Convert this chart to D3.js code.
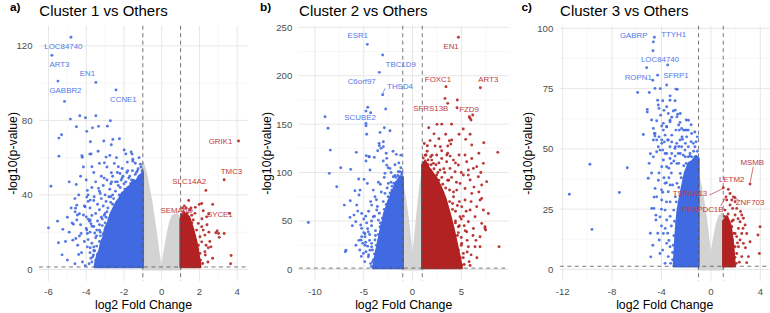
<!DOCTYPE html>
<html><head><meta charset="utf-8">
<script src="https://cdn.jsdelivr.net/npm/d3@7"></script>
<style>body{margin:0;background:#fff}svg{display:block}</style>
</head><body><svg id="c" width="770" height="313"></svg>
<script>
// ---------- text ----------
const panelTags = ["a)", "b)", "c)"];
const panelTitles = ["Cluster 1 vs Others", "Cluster 2 vs Others", "Cluster 3 vs Others"];
const xAxisTitle = "log2 Fold Change";
const yAxisTitle = "-log10(p-value)";
const fcCut = 1;
const pCut = 1.301; // -log10(0.05)

// ---------- ticks ----------
const aXTicks = [-6, -4, -2, 0, 2, 4];
const aYTicks = [0, 40, 80, 120];
const bXTicks = [-10, -5, 0, 5];
const bYTicks = [0, 50, 100, 150, 200, 250];
const cXTicks = [-12, -8, -4, 0, 4];
const cYTicks = [0, 25, 50, 75, 100];

// ---------- panel a ----------
const aGray = [[-1,57],[-0.85,52],[-0.7,44],[-0.55,36],[-0.44,28],[-0.35,22],[-0.26,15.7],[-0.18,9],[-0.1,4],[-0.03,1],[0.02,0.5],[0.05,1],[0.09,5],[0.18,11],[0.26,15.7],[0.35,20.5],[0.44,24.6],[0.53,27.5],[0.62,29],[0.8,29.5],[0.97,28],[1.0,27]];
const aBlueCore = [[-1,52],[-1.2,50],[-1.35,47],[-1.5,48],[-1.65,45],[-1.8,44],[-1.95,42],[-2.1,41],[-2.25,38],[-2.4,36],[-2.55,33],[-2.7,30],[-2.85,25],[-3.0,22],[-3.1,17],[-3.2,15],[-3.3,10],[-3.4,8],[-3.5,4],[-3.55,1.3]];
const aRedCore = [[1,27],[1.1,29],[1.2,30],[1.35,29],[1.45,28],[1.55,25],[1.65,22],[1.75,18],[1.85,14],[1.95,8],[2.0,5],[2.05,1.3]];
const aBlue = [[-4.81,124.6],[-5.82,114.9],[-5.50,101.1],[-3.49,100.4],[-5.15,90.2],[-2.42,96.3],[-4.84,80.7],[-4.34,82.5],[-4.04,81.4],[-3.49,82.5],[-2.72,79.8],[-4.52,76.6],[-3.67,76.0],[-3.35,76.8],[-2.88,76.9],[-3.97,74.1],[-5.31,72.3],[-5.45,70.5],[-3.78,68.5],[-3.07,68.9],[-2.59,69.8],[-2.24,70.1],[-2.67,66.9],[-3.37,63.4],[-1.99,64.1],[-1.62,63.0],[-1.57,61.9],[-5.45,60.8],[-4.23,61.0],[-4.21,60.2],[-3.81,61.9],[-3.74,62.0],[-2.95,60.3],[-2.75,61.2],[-1.53,59.1],
[-4.15,55],[-3.70,55.1],[-3.30,56.9],[-3.04,57.2],[-2.51,56.9],[-2.30,55.1],[-1.82,57.6],[-1.53,58.1],[-1.29,52.9],[-1.13,56.5],[-1.34,52.1],[-2.10,54.2],[-2.67,51.9],[-2.21,51.5],
[-5.87,44.7],[-4.53,45.6],[-5.52,25.9],[-6.0,22.3],[-5.24,21.5],[-5.47,14.3],[-5.28,7.8],[-4.57,32.8],[-4.36,29.9],[-4.15,29.2],[-4.75,25.0],[-4.68,24.3],[-4.50,26.5],[-4.71,15.7],[-4.55,16.6],[-4.36,17.9],[-4.27,19.3],[-3.94,12.1],[-3.79,11.6],[-3.62,7.7],[-3.65,6.8],[-3.97,38.8],[-3.94,42.4],[-3.90,36.5],[-4.0,28.2],[-3.83,25.9],[-3.69,23.2],[-3.44,21.1],
[-3.97,21.1],[-3.94,19.3],[-3.79,26.5],[-4.5,34.5],[-4.06,33.6],[-3.79,37.2],[-3.58,39.0],[-3.26,40.8],[-4.59,30.9],[-4.47,29.2],
[-3.9,40],[-3.7,44],[-3.5,47],[-3.3,42],[-3.1,45],[-2.9,48],[-2.7,46],[-3.6,37],[-3.4,35],[-3.2,38],[-3.0,40],[-2.8,39],[-3.8,33],[-3.5,30],[-3.3,32],[-3.1,34],[-2.9,31],[-2.7,36],[-4.1,34],[-3.9,27],[-3.7,29],[-3.4,26],[-3.2,28],[-3.0,25],[-2.8,27],[-4.0,22],[-3.8,20],[-3.6,23],[-3.3,21],[-3.1,19],[-2.9,22],[-2.7,24],[-3.9,16],[-3.7,14],[-3.5,17],[-3.3,15],[-3.1,13],[-2.9,16],[-2.7,12],[-3.8,9],[-3.6,10],[-3.4,8],[-3.2,11],[-3.0,7],[-2.8,9],[-3.5,5],[-3.3,4],[-3.1,3],[-2.9,5],[-2.7,3],[-3.45,12.5],[-3.25,18],[-3.05,29],[-2.85,19],[-2.65,30],[-2.6,40],[-2.55,8],[-2.6,20],[-3.75,24.5],[-3.55,19.5],[-3.15,23.5],[-2.95,36.5],[-2.75,43],[-3.35,43.5],[-3.05,49],[-2.6,50],[-2.35,47],[-2.1,49],[-1.9,47],[-2.2,44],[-2.45,42],[-4.9,47],[-4.4,40],[-1.6,48],[-1.2,50],[-1.05,53],
[-1.1,55],[-1.25,54],[-1.4,51],[-1.55,53],[-1.7,50],[-1.85,52],[-2.0,46],[-2.15,48],[-2.3,45],[-2.45,47],[-2.55,38],[-2.7,39],[-2.85,33],[-3.0,30],[-3.15,27],[-3.3,24],[-3.45,18],[-3.6,12],[-3.75,6],[-3.85,3],[-1.3,48],[-1.65,46],[-1.95,43],[-2.25,40],[-2.6,35],[-2.95,28],[-3.25,20],[-3.55,10],[-3.7,4],[-1.15,47],[-1.45,45],[-1.75,49],[-2.05,50],[-2.35,52],[-2.65,47],[-2.4,60],[-1.8,53],[-1.4,57],[-1.2,60],[-1.9,62],[-2.9,55],[-3.2,50],[-3.6,52],[-4.0,48],[-4.3,50],[-4.6,38],[-4.8,33],[-5.0,28],[-5.1,15],[-4.9,20],[-4.4,8],[-4.2,4],[-4.05,2],[-4.6,3],[-5.0,5],[-4.3,24],[-4.45,13],[-4.1,15],[-4.25,9]];
const aRed = [[4.07,68.9],[3.31,48.1],[2.34,42.4],[1.43,37.0],[1.99,34.9],[2.12,35.4],[2.70,34.9],[1.78,33.3],[2.20,31.5],[2.13,27.2],[2.38,28.2],[2.49,29.7],[3.58,30.1],[2.94,20.7],[3.01,19.3],[3.05,17.2],[3.31,19.3],[2.87,19.7],[2.61,12.1],[2.47,11.6],[2.29,9.5],[2.31,7.7],[2.03,8.6],[3.68,7.5],[3.65,3.0],[2.03,17.5],[2.12,14.8],[1.85,21.1],[1.94,24.7],[1.67,26.5],[1.76,30.1],[2.20,21.1],[2.29,18.4],[2.12,22.9],[1.94,13.0],[1.85,8.6],[1.67,5.0],[2.06,5.0],[2.17,3.2],[1.50,31.8],[1.41,28.2],[1.59,29.1],[1.15,31],[1.3,33],[1.05,29.5],
[1.1,25],[1.25,27],[1.6,25],[1.75,18],[1.9,11],[2.0,2.5],[1.55,33],[1.35,30],[1.2,34],[1.1,33],[2.4,24],[2.5,20],[2.55,15],[2.35,13],[2.45,4],[2.7,6]];
const aLabels = [["LOC84740",-5.21,119.5,"down"],["ART3",-5.42,109.9,"down"],["EN1",-3.94,105.2,"down"],["GABBR2",-5.10,95.9,"down"],["CCNE1",-2.03,91.3,"down"],["GRIK1",3.12,68.9,"up"],["TMC3",3.70,52.8,"up"],["SLC14A2",1.46,47.0,"up"],["SEMA6D",0.79,31.8,"up"],["SYCE1",3.08,29.5,"up"]];
const aSegs = [];

// ---------- panel b ----------
const bGray = [[-1,85],[-0.8,74],[-0.6,60],[-0.4,44],[-0.25,30],[-0.12,17],[0,9],[0.12,17],[0.25,30],[0.4,46],[0.6,66],[0.8,85],[0.95,95],[1,95]];
const bBlueCore = [[-1,95],[-1.3,96],[-1.5,92],[-1.7,90],[-1.9,84],[-2.1,80],[-2.3,74],[-2.5,70],[-2.7,63],[-2.9,58],[-3.05,50],[-3.2,45],[-3.35,36],[-3.5,30],[-3.65,22],[-3.8,15],[-3.9,9],[-4.0,4],[-4.05,1.3]];
const bRedCore = [[1,108],[1.2,111],[1.4,110],[1.65,105],[1.9,102],[2.15,98],[2.4,95],[2.65,90],[2.9,85],[3.15,79],[3.4,72],[3.6,65],[3.8,58],[4.0,50],[4.2,42],[4.35,35],[4.5,28],[4.65,21],[4.8,14],[4.9,9],[5.0,4],[5.05,1.3]];
const bBlue = [[-4.63,232.4],[-3.06,221.4],[-3.40,203.5],[-3.06,180.4],[-2.75,165.6],[-4.59,167.4],[-4.29,161.8],[-4.77,163.5],[-4.77,150.8],[-4.77,148.3],[-8.97,157.6],[-8.66,145.7],[-4.70,139.5],[-3.33,141.5],[-2.89,146.3],[-2.31,143.2],[-3.43,130.2],[-3.40,127.7],[-2.99,131.8],[-2.99,126.7],[-3.23,125.0],[-3.57,122.5],[-8.43,123.2],[-5.76,120.9],[-4.74,117.4],[-4.46,116.3],[-3.92,115.7],[-1.66,118.8],[-2.65,114.7],
[-8.53,99.2],[-7.36,105.0],[-6.34,103.3],[-7.77,85.3],[-10.68,48.5],[-6.99,66.4],[-6.38,70.9],[-6.82,19.9],[-6.89,18.2],[-6.41,53.7],[-5.82,49.2],[-6.17,45.0],[-5.62,60.2],[-5.90,81.2],[-5.49,76.8],[-5.52,93.3],[-4.97,93.0],[-4.63,88.8],[-4.36,102.6],[-4.77,111.9],[-4.43,116.3],
[-5.31,45.8],[-5.21,33.7],[-5.11,26.9],[-5.25,13.4],[-4.77,18.2],[-4.87,33.7],[-4.53,38.8],
[-4.02,81.9],[-3.85,75.0],[-4.19,66.4],[-3.67,61.3],[-4.02,54.3],[-3.50,50.9],[-3.33,44.0],[-3.85,30.3],[-4.19,23.3],[-3.33,26.9],[-3.67,19.9],[-3.16,13.0],[-3.50,9.6],
[-2.65,107.7],[-2.31,104.3],[-2.82,99.2],[-1.97,95.7],[-2.48,88.8],[-2.13,81.9],[-1.79,76.8],[-2.82,78.5],[-2.31,69.8],[-1.62,88.8],[-1.46,100.8],
[-4.5,60],[-4.8,55],[-4.2,45],[-4.6,42],[-5.0,38],[-4.4,30],[-4.8,28],[-4.1,20],[-4.5,15],[-4.0,10],[-4.3,6],[-3.9,3],[-5.5,30],[-5.8,25],[-3.8,40],[-3.9,55],[-3.6,65],[-4.3,70],[-3.2,80],[-2.9,95],[-3.5,90],[-2.5,105],[-3.0,112],[-2.2,100],[-1.2,105],[-1.4,110],[-1.8,108],[-1.1,98],
[-6.0,56.1],[-5.72,66.4],[-5.21,57.8],[-5.38,81.9],[-5.21,42.4],[-4.87,36.9],[-5.28,30.2],[-4.87,25.0],[-4.36,19.9],[-5.04,16.5],[-4.53,13.1],[-4.19,26.9],
[-1.1,100],[-1.3,101],[-1.5,97],[-1.7,95],[-1.9,89],[-2.1,86],[-2.3,79],[-2.5,75],[-2.7,67],[-2.9,62],[-3.1,53],[-3.3,48],[-3.5,36],[-3.7,25],[-3.9,16],[-4.1,8],[-4.2,3],[-1.6,84],[-2.0,72],[-2.4,64],[-2.8,52],[-3.2,38],[-3.6,20],[-1.4,92],[-1.8,97],[-2.2,90],[-2.6,84],[-3.0,70],[-3.4,58],[-3.8,35],[-4.4,36],[-4.7,48],[-5.0,52],[-4.6,24],[-4.9,8],[-5.4,20],[-4.2,50],[-3.7,72],[-3.3,88],[-2.7,120],[-2.0,122],[-1.2,118]];
const bRed = [[4.70,239.7],[3.43,188.6],[6.95,187.6],[3.33,176.6],[3.61,171.5],[4.59,174.9],[4.56,166.9],[5.82,157.6],[5.90,156.0],[6.0,154.2],[6.17,159.4],[1.66,146.3],[2.51,149.8],[3.40,139.5],[4.02,133.6],[3.92,129.4],[3.61,127.4],[4.77,139.5],[5.45,134.3],[6.07,128.4],[7.30,130.8],[1.52,127.7],[2.31,127.4],[2.85,126.7],[2.99,122.5],[1.38,118.1],[1.86,116.3],[2.48,118.1],[3.51,118.1],[3.85,117.0],[4.77,118.1],[5.38,118.1],[8.74,120.9],[5.90,139.5],[3.78,132.9],
[1.97,112.9],[2.14,109.5],[2.99,114.6],[3.50,111.2],[4.19,112.9],[4.70,107.8],[5.55,111.2],[6.07,114.6],[6.58,106.1],[7.26,109.5],[4.36,100.9],[5.21,97.5],[5.90,92.3],[6.75,95.7],[7.60,90.6],[5.72,102.6],[3.84,104.3],[2.82,102.6],[2.48,97.5],[4.87,88.8],
[4.53,81.9],[5.38,83.6],[6.07,78.5],[6.92,71.6],[6.58,64.8],[5.90,61.3],[7.26,61.3],[5.38,71.6],[5.04,64.8],[6.41,54.4],[7.09,47.5],[5.72,49.2],[4.87,54.4],[7.77,57.8],[4.70,44.0],[5.55,38.9],[6.24,42.3],[7.43,44.0],[6.92,33.7],
[4.36,30.3],[5.04,26.9],[5.72,23.4],[5.21,16.5],[4.53,9.6],[5.04,4.5],[6.41,23.4],[6.92,23.4],[8.87,23.4],[4.70,20.0],[4.19,13.1],
[7.09,87.1],[7.09,73.3],[7.43,42.3],[7.5,40.6],[6.24,104.3],[5.72,97.4],
[4.0,95],[4.5,90],[3.6,92],[4.2,75],[4.8,70],[4.4,60],[5.2,55],[4.8,45],[5.3,45],[4.6,35],[5.0,33],[5.6,30],[4.9,12],[4.5,25],[3.3,100],[2.7,92],[3.1,88],[1.3,112],[1.6,108],[1.2,104],[2.4,108],[3.8,82],[4.1,68],[3.9,52],[4.4,48],
[1.1,115],[1.3,118],[1.6,113],[1.9,108],[2.2,104],[2.6,100],[3.0,95],[3.4,84],[3.8,70],[4.1,62],[4.4,50],[4.7,38],[5.0,25],[5.2,12],[5.3,5],[1.5,122],[2.0,118],[2.7,110],[3.2,104],[3.7,92],[4.2,80],[4.6,66],[5.0,52],[5.4,40],[5.6,18],[5.8,8],[6.0,15],[5.5,60],[6.2,35],[6.5,30],[6.0,70],[6.3,85],[5.0,100],[4.4,110],[3.6,120],[2.7,135],[2.2,140],[1.8,133],[1.2,130],[3.0,150],[4.0,150],[5.2,145],[6.8,120],[7.0,100],[6.8,80],[6.6,12],[5.9,4]];
const bLabels = [["ESR1",-5.62,242.0,"down"],["TBC1D9",-1.21,211.8,"down"],["C6orf97",-5.21,193.8,"down"],["THSD4",-1.28,189.4,"down"],["SCUBE2",-5.38,157.0,"down"],["EN1",3.95,230.0,"up"],["FOXC1",2.61,196.6,"up"],["ART3",7.77,196.6,"up"],["SFRS13B",1.87,166.3,"up"],["FZD9",5.79,165.6,"up"]];
const bSegs = [[-2.82,187.0,-3.06,181.5,"down"]];

// ---------- panel c ----------
const cGray = [[-1,38],[-0.8,34],[-0.6,28],[-0.4,21],[-0.2,12],[-0.08,7],[0,5],[0.1,8],[0.3,14],[0.5,19],[0.7,22],[0.9,23],[1,22]];
const cBlueCore = [[-1,46],[-1.2,47],[-1.5,45],[-1.8,44],[-2.1,40],[-2.3,35],[-2.5,30],[-2.7,24],[-2.85,15],[-2.95,6],[-3.0,1.3]];
const cRedCore = [[1,20],[1.15,21],[1.3,22],[1.45,20],[1.6,18],[1.7,14],[1.8,10],[1.9,3],[1.95,1.3]];
const cBlue = [[-4.58,96.3],[-4.66,94.4],[-4.69,90.7],[-3.50,84.8],[-5.20,83.7],[-4.31,80.6],[-4.71,78.5],[-4.53,75.1],[-3.58,76.5],[-2.83,74.8],[-2.72,74.7],[-5.93,73.4],[-4.99,73.4],[-4.31,70.2],[-3.31,70.2],[-5.15,66.4],[-5.15,65.3],[-4.26,68.2],[-4.20,66.8],[-3.58,67.5],[-3.45,64.7],[-3.04,65.7],[-2.69,64.4],[-4.07,64.0],[-4.39,61.7],[-3.85,60.6],[-3.17,63.1],[-3.31,61.2],[-3.58,59.2],[-3.98,59.5],[-3.85,57.8],[-5.47,56.0],
[-4.58,56.4],[-4.53,55.3],[-4.20,55.0],[-4.66,53.7],[-3.98,53.7],[-3.77,52.9],[-3.17,55.7],[-2.83,57.8],[-2.56,57.8],[-2.37,58.5],[-2.10,57.8],[-1.83,57.8],[-1.96,55.0],[-2.50,53.7],[-2.77,52.3],[-3.17,52.9],[-3.50,53.7],[-3.31,50.9],[-2.91,50.2],[-2.37,50.9],[-2.10,49.5],[-1.83,50.9],[-1.29,50.9],[-2.64,48.1],[-3.17,48.1],[-3.58,48.1],[-3.90,49.5],[-4.26,50.9],[-4.39,48.8],[-4.66,46.7],[-2.23,47.4],[-1.83,46.7],[-1.55,46.7],[-1.29,46.7],
[-11.46,31.2],[-9.79,43.6],[-9.63,16.6],[-6.77,42.2],[-7.41,31.9],[-4.87,5.2],[-5.07,37.8],[-4.79,25.3],[-4.61,25.3],[-4.45,22.5],[-4.12,6.6],[-4.18,12.2],[-4.45,20.5],
[-4.66,58.5],[-4.52,56.4],[-4.39,53.7],[-4.12,49.5],[-3.98,52.3],[-3.71,55.7],[-3.58,59.2],[-3.31,61.9],[-3.45,53.7],[-3.71,48.1],[-3.85,45.4],[-3.58,42.6],[-3.31,46.0],[-3.98,42.6],[-4.25,37.0],[-4.52,33.6],[-4.39,30.1],[-3.71,35.7],[-3.45,32.2],[-3.98,28.8],[-3.71,24.6],[-4.12,21.8],[-3.58,20.5],[-3.85,14.9],[-3.58,10.8],[-3.31,9.4],[-3.45,5.3],[-3.71,2.5],[-3.26,2.5],
[-2.88,66.1],[-2.75,63.3],[-2.48,64.7],[-2.61,59.9],[-2.21,57.8],[-2.34,55.0],[-2.07,52.3],[-1.96,57.8],[-1.82,61.9],[-1.56,56.4],[-1.42,52.3],[-1.69,48.1],[-2.07,46.7],[-2.48,48.1],[-2.88,50.9],[-2.75,43.9],[-2.48,39.8],[-2.75,35.7],[-2.88,30.1],[-3.01,24.6],[-2.75,19.1],[-2.61,13.5],[-2.88,9.4],
[-3.2,40],[-3.1,35],[-3.3,28],[-3.2,18],[-3.0,14],[-3.1,4],[-3.5,15],[-3.4,38],[-3.0,45],[-2.6,44],
[-1.1,49],[-1.4,49],[-1.7,47],[-2.0,44],[-2.2,43],[-2.4,38],[-2.6,34],[-2.8,28],[-2.95,20],[-3.05,10],[-3.1,7],[-1.2,53],[-1.6,53],[-2.3,54],[-2.6,51],[-2.9,47],[-3.2,44],[-3.4,42],[-3.6,36],[-3.3,35],[-3.8,38],[-3.9,32],[-3.6,28],[-3.3,22],[-3.7,17],[-4.0,18],[-3.9,8],[-3.4,12],[-4.3,15],[-4.0,25],[-4.2,40],[-4.0,33],[-2.5,61],[-2.0,62],[-1.6,60],[-1.3,57],[-1.1,55],[-2.9,70],[-3.3,72],[-3.9,70],[-4.1,75],[-3.8,66],[-4.8,62],[-4.9,48],[-5.0,44],[-4.8,40],[-4.6,30],[-4.9,15],[-4.7,10]];
const cRed = [[3.17,35.4],[1.0,33.9],[1.41,33.2],[1.55,31.5],[1.82,30.1],[1.69,28.8],[1.28,28.8],[1.96,28.1],[1.14,24.6],[1.55,26.7],[1.76,25.3],[2.09,25.3],[1.22,30.1],[1.95,29.7],
[2.50,22.6],[2.63,21.2],[2.36,19.8],[2.77,18.4],[2.90,14.9],[3.17,11.5],[2.50,14.9],[2.23,17.0],[2.09,13.6],[2.63,10.8],[2.23,9.4],[2.09,6.6],[2.90,2.8],[3.04,5.3],[2.50,5.3],[3.98,17.7],[3.81,14.3],[3.92,6.6],[2.36,12.2],
[1.96,22.6],[1.82,20.5],[1.69,17.7],[1.96,14.9],[1.76,12.2],[1.96,9.4],[1.82,6.6],[1.69,3.8],
[1.1,22],[1.4,23],[1.7,20],[1.85,15],[1.95,5],[2.05,2.5],[2.2,21],[2.4,24],[2.6,17],[2.8,9],[2.3,3],[2.15,11]];
const cLabels = [["GABRP",-6.25,96.9,"down"],["TTYH1",-3.01,97.6,"down"],["LOC84740",-4.12,87.1,"down"],["ROPN1",-5.88,79.5,"down"],["SFRP1",-2.83,80.6,"down"],["MSMB",3.35,44.2,"up"],["LETM2",1.68,37.3,"up"],["TSPAN13",-1.69,31.4,"up"],["ZNF703",3.17,27.8,"up"],["PPAPDC1B",-0.66,25.0,"up"]];
const cSegs = [[3.43,42.6,3.17,35.9,"up"],[-0.13,30.8,1.0,33.6,"up"],[0.79,26.3,1.22,30.1,"up"],[2.22,28.8,1.95,29.7,"up"]];

// ---------- drawing ----------
const FONT = '"Liberation Sans", Arial, Helvetica, sans-serif';
const BLUE = "#4169E1", RED = "#B22222", GRAY = "#D3D3D3";
const LBLUE = "#5479e6", LRED = "#c0393b";
const pTop = 25.7, pBottom = 281;
const boxes = [[39, 248], [298.8, 508.6], [559.8, 769.6]];
const tagX = [10, 260, 521.5];
const yTitleX = [12.5, 266.7, 527.5];
const svg = d3.select("#c");
const fmt = d => String(d);

function expand(e) { const d = (e[1] - e[0]) * 0.05; return [e[0] - d, e[1] + d]; }

function drawPanel(i, P) {
  const [x0, x1] = boxes[i];
  const all = P.blue.concat(P.red, P.gray, P.blueCore, P.redCore);
  const x = d3.scaleLinear().domain(expand(d3.extent(all, d => d[0]))).range([x0, x1]);
  const y = d3.scaleLinear().domain(expand([0, d3.max(all, d => d[1])])).range([pBottom, pTop]);
  const g = svg.append("g");
  const [xd0, xd1] = x.domain(), [yd0, yd1] = y.domain();
  const xs = P.xTicks[1] - P.xTicks[0], ys = P.yTicks[1] - P.yTicks[0];
  const xMinor = [], yMinor = [];
  for (let v = P.xTicks[0] - xs / 2; v <= xd1; v += xs) if (v >= xd0) xMinor.push(v);
  for (let v = P.yTicks[0] - ys / 2; v <= yd1; v += ys) if (v >= yd0) yMinor.push(v);
  g.selectAll(".xm").data(xMinor).join("line").attr("x1", d => x(d)).attr("x2", d => x(d)).attr("y1", pTop).attr("y2", pBottom).attr("stroke", "#f1f1f1").attr("stroke-width", 0.6);
  g.selectAll(".ym").data(yMinor).join("line").attr("y1", d => y(d)).attr("y2", d => y(d)).attr("x1", x0).attr("x2", x1).attr("stroke", "#f1f1f1").attr("stroke-width", 0.6);
  g.selectAll(".xM").data(P.xTicks).join("line").attr("x1", d => x(d)).attr("x2", d => x(d)).attr("y1", pTop).attr("y2", pBottom).attr("stroke", "#e6e6e6").attr("stroke-width", 1);
  g.selectAll(".yM").data(P.yTicks).join("line").attr("y1", d => y(d)).attr("y2", d => y(d)).attr("x1", x0).attr("x2", x1).attr("stroke", "#e6e6e6").attr("stroke-width", 1);

  const area0 = d3.area().x(d => x(d[0])).y0(y(0)).y1(d => y(d[1]));
  const areaP = d3.area().x(d => x(d[0])).y0(y(pCut)).y1(d => y(d[1]));
  g.append("path").datum(P.gray).attr("d", area0).attr("fill", GRAY).attr("stroke", GRAY).attr("stroke-width", 2.4).attr("stroke-linejoin", "round");
  g.append("path").datum(P.blueCore).attr("d", areaP).attr("fill", BLUE).attr("stroke", BLUE).attr("stroke-width", 2.4).attr("stroke-linejoin", "round");
  g.append("path").datum(P.redCore).attr("d", areaP).attr("fill", RED).attr("stroke", RED).attr("stroke-width", 2.4).attr("stroke-linejoin", "round");

  g.selectAll(".pb").data(P.blue).join("circle").attr("cx", d => x(d[0])).attr("cy", d => y(d[1])).attr("r", 1.45).attr("fill", BLUE).attr("fill-opacity", 0.9);
  g.selectAll(".pr").data(P.red).join("circle").attr("cx", d => x(d[0])).attr("cy", d => y(d[1])).attr("r", 1.45).attr("fill", RED).attr("fill-opacity", 0.9);

  g.selectAll(".vl").data([-fcCut, fcCut]).join("line").attr("x1", d => x(d)).attr("x2", d => x(d)).attr("y1", pTop).attr("y2", pBottom)
    .attr("stroke", "#555").attr("stroke-width", 0.8).attr("stroke-dasharray", "4,3.5");
  g.append("line").attr("x1", x0).attr("x2", x1).attr("y1", y(pCut)).attr("y2", y(pCut))
    .attr("stroke", "#555").attr("stroke-width", 0.8).attr("stroke-dasharray", "4,3.5");

  g.selectAll(".sg").data(P.segs).join("line").attr("x1", d => x(d[0])).attr("y1", d => y(d[1])).attr("x2", d => x(d[2])).attr("y2", d => y(d[3]))
    .attr("stroke", d => d[4] === "up" ? LRED : LBLUE).attr("stroke-width", 0.7);
  g.selectAll(".lb").data(P.labels).join("text").attr("x", d => x(d[1])).attr("y", d => y(d[2]))
    .attr("text-anchor", "middle").attr("dominant-baseline", "central")
    .attr("font-family", FONT).attr("font-size", 7.9).attr("fill", d => d[3] === "up" ? LRED : LBLUE).text(d => d[0]);

  g.selectAll(".xt").data(P.xTicks).join("text").attr("x", d => x(d)).attr("y", 291.6).attr("text-anchor", "middle").attr("dominant-baseline", "central")
    .attr("font-family", FONT).attr("font-size", 9.6).attr("fill", "#4d4d4d").text(fmt);
  g.selectAll(".yt").data(P.yTicks).join("text").attr("x", x0 - 6.5).attr("y", d => y(d)).attr("text-anchor", "end").attr("dominant-baseline", "central")
    .attr("font-family", FONT).attr("font-size", 9.6).attr("fill", "#4d4d4d").text(fmt);

  g.append("text").attr("x", (x0 + x1) / 2).attr("y", 309).attr("text-anchor", "middle").attr("font-family", FONT).attr("font-size", 12.3).attr("fill", "#000").text(xAxisTitle);
  g.append("text").attr("transform", `translate(${yTitleX[i]},${(pTop + pBottom) / 2}) rotate(-90)`).attr("text-anchor", "middle").attr("dominant-baseline", "central")
    .attr("font-family", FONT).attr("font-size", 12.3).attr("fill", "#000").text(yAxisTitle);
  g.append("text").attr("x", x0 + 0.3).attr("y", 16).attr("font-family", FONT).attr("font-size", 15).attr("fill", "#000").text(panelTitles[i]);
  g.append("text").attr("x", tagX[i]).attr("y", 11.3).attr("font-family", FONT).attr("font-size", 11.8).attr("font-weight", "bold").attr("fill", "#000").text(panelTags[i]);
}

drawPanel(0, {gray: aGray, blueCore: aBlueCore, redCore: aRedCore, blue: aBlue, red: aRed, labels: aLabels, segs: aSegs, xTicks: aXTicks, yTicks: aYTicks});
drawPanel(1, {gray: bGray, blueCore: bBlueCore, redCore: bRedCore, blue: bBlue, red: bRed, labels: bLabels, segs: bSegs, xTicks: bXTicks, yTicks: bYTicks});
drawPanel(2, {gray: cGray, blueCore: cBlueCore, redCore: cRedCore, blue: cBlue, red: cRed, labels: cLabels, segs: cSegs, xTicks: cXTicks, yTicks: cYTicks});
</script>
</body></html>
